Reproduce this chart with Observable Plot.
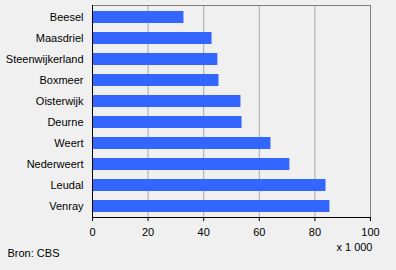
<!DOCTYPE html>
<html>
<head>
<meta charset="utf-8">
<script src="https://cdn.jsdelivr.net/npm/d3@7"></script>
<script src="https://cdn.jsdelivr.net/npm/@observablehq/plot@0.6"></script>
<style>
  html, body { margin: 0; padding: 0; background: #f0f0f0; }
  #chart svg { display: block; }
</style>
</head>
<body>
<div id="chart"></div>
<script>
const categories = ["Beesel","Maasdriel","Steenwijkerland","Boxmeer","Oisterwijk","Deurne","Weert","Nederweert","Leudal","Venray"];
const values = [32.9, 43.0, 45.1, 45.5, 53.4, 53.8, 64.2, 71.0, 84.0, 85.4];
const xTicks = [0, 20, 40, 60, 80, 100];
const unitLabel = "x 1 000";
const sourceLabel = "Bron: CBS";

const data = categories.map((name, i) => ({name, value: values[i]}));

const chart = Plot.plot({
  width: 396,
  height: 270,
  marginLeft: 92,
  marginRight: 26,
  marginTop: 5,
  marginBottom: 53,
  style: {background: "#f0f0f0", fontFamily: "'Liberation Sans', Arial, sans-serif", fontSize: "11px", color: "#000"},
  x: {domain: [0, 100]},
  y: {domain: categories, paddingInner: 0.43, paddingOuter: 0.215},
  marks: [
    Plot.gridX(xTicks, {stroke: "#a8a8a8", strokeOpacity: 1}),
    Plot.frame({stroke: "#808080", strokeWidth: 1}),
    Plot.barX(data, {x: "value", y: "name", fill: "#3366ff"}),
    Plot.ruleX([0], {stroke: "#000", strokeWidth: 1}),
    Plot.frame({anchor: "bottom", stroke: "#000", strokeWidth: 1}),
    Plot.axisX(xTicks, {tickSize: 4, tickPadding: 7, stroke: "#000", fill: "#000", label: null, fontSize: 11}),
    Plot.axisY({tickSize: 0, tickPadding: 9, fill: "#000", label: null, fontSize: 11}),
    Plot.text([unitLabel], {frameAnchor: "bottom-right", dx: 2, dy: 33, textAnchor: "end", fill: "#000", fontSize: 11}),
    Plot.text([sourceLabel], {frameAnchor: "bottom-left", dx: -85, dy: 39, textAnchor: "start", fill: "#000", fontSize: 11})
  ]
});
document.getElementById("chart").appendChild(chart);
</script>
</body>
</html>
